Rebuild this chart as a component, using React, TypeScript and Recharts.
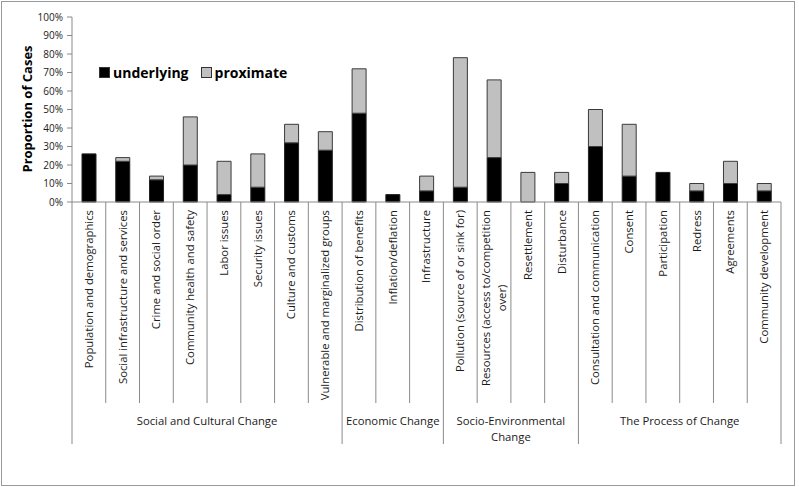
import { BarChart, Bar, XAxis, YAxis, Legend } from "recharts";

const FONT = '"Open Sans", "DejaVu Sans", sans-serif';
const TEXT = "#1a1a1a";
const AXIS = "#8a8a8a";

const categories = [
  "Population and demographics",
  "Social infrastructure and services",
  "Crime and social order",
  "Community health and safety",
  "Labor issues",
  "Security issues",
  "Culture and customs",
  "Vulnerable and marginalized groups",
  "Distribution of benefits",
  "Inflation/deflation",
  "Infrastructure",
  "Pollution (source of or sink for)",
  "Resources (access to/competition\nover)",
  "Resettlement",
  "Disturbance",
  "Consultation and communication",
  "Consent",
  "Participation",
  "Redress",
  "Agreements",
  "Community development",
];

const groupNames = [
  "Social and Cultural Change",
  "Economic Change",
  "Socio-Environmental\nChange",
  "The Process of Change",
];
const groupSizes = [8, 3, 4, 6];

const seriesOrder = ["underlying", "proximate"];
const underlying = [26, 22, 12, 20, 4, 8, 32, 28, 48, 4, 6, 8, 24, 0, 10, 30, 14, 16, 6, 10, 6];
const proximate = [0, 2, 2, 26, 18, 18, 10, 10, 24, 0, 8, 70, 42, 16, 6, 20, 28, 0, 4, 12, 4];

const yTicks = [0, 10, 20, 30, 40, 50, 60, 70, 80, 90, 100];

const W = 799;
const H = 487;
const M_TOP = 17;
const M_RIGHT = 18;
const Y_W = 72;
const X_H = 285;
const PLOT_BOTTOM = H - X_H;
const BAND = (W - Y_W - M_RIGHT) / categories.length;

const rows = categories.map((name, i) => ({
  name,
  underlying: underlying[i],
  proximate: proximate[i],
}));

// first category index of each group
const groupStarts: number[] = [];
groupSizes.reduce((acc, n) => {
  groupStarts.push(acc);
  return acc + n;
}, 0);

let ctx: CanvasRenderingContext2D | null = null;
function textWidth(s: string, font: string) {
  if (!ctx) ctx = document.createElement("canvas").getContext("2d");
  if (!ctx) return s.length * 6;
  ctx.font = font;
  return ctx.measureText(s).width;
}

const CAT_SIZE = 11.3;
const LABEL_TOP = PLOT_BOTTOM + 8;

function CategoryTick(props: any) {
  const { x, index, payload } = props;
  const lines = String(payload.value).split("\n");
  const left = x - BAND / 2;
  const g = groupStarts.indexOf(index);
  const isLast = index === categories.length - 1;

  const widest = Math.max(...lines.map((l) => textWidth(l, `${CAT_SIZE}px ${FONT}`)));
  const midY = LABEL_TOP + widest / 2;
  const lineH = 16;

  return (
    <g>
      <line
        x1={left}
        x2={left}
        y1={PLOT_BOTTOM}
        y2={g >= 0 ? 444 : 403}
        stroke={AXIS}
        strokeWidth={1}
      />
      {isLast && (
        <line x1={x + BAND / 2} x2={x + BAND / 2} y1={PLOT_BOTTOM} y2={444} stroke={AXIS} />
      )}
      {lines.map((l, i) => {
        const cx = x + (i - (lines.length - 1) / 2) * lineH;
        return (
          <text
            key={i}
            x={cx}
            y={midY}
            dy="0.35em"
            transform={`rotate(-90 ${cx} ${midY})`}
            textAnchor="middle"
            fontFamily={FONT}
            fontSize={CAT_SIZE}
            fill={TEXT}
          >
            {l}
          </text>
        );
      })}
      {g >= 0 &&
        groupNames[g].split("\n").map((l, i) => (
          <text
            key={"g" + i}
            x={left + (groupSizes[g] * BAND) / 2}
            y={421 + i * 16}
            dy="0.35em"
            textAnchor="middle"
            fontFamily={FONT}
            fontSize={CAT_SIZE}
            fill={TEXT}
          >
            {l}
          </text>
        ))}
    </g>
  );
}

function LegendContent(props: any) {
  const items = [...(props.payload || [])].sort(
    (a: any, b: any) => seriesOrder.indexOf(a.dataKey) - seriesOrder.indexOf(b.dataKey)
  );
  return (
    <div style={{ display: "flex", fontFamily: FONT, fontWeight: 700, fontSize: 14, color: "#000" }}>
      {items.map((it: any, i: number) => (
        <div key={i} style={{ display: "flex", alignItems: "center", marginRight: 12 }}>
          <span
            style={{
              display: "inline-block",
              width: 9,
              height: 9,
              background: it.color,
              border: "1px solid #333",
              marginRight: 3,
            }}
          />
          <span>{it.value}</span>
        </div>
      ))}
    </div>
  );
}

export default function App() {
  return (
    <div style={{ position: "fixed", left: 0, top: 0, width: W, height: H, background: "#fff" }}>
      <BarChart
        width={W}
        height={H}
        data={rows}
        margin={{ top: M_TOP, right: M_RIGHT, left: 0, bottom: 0 }}
        barSize={14}
      >
        <XAxis
          dataKey="name"
          interval={0}
          height={X_H}
          tickLine={false}
          tickSize={0}
          tickMargin={0}
          axisLine={{ stroke: AXIS }}
          tick={<CategoryTick />}
        />
        <YAxis
          domain={[0, 100]}
          ticks={yTicks}
          interval={0}
          width={Y_W}
          tickFormatter={(v) => `${v}%`}
          tick={{ fill: TEXT, fontSize: 10, fontFamily: FONT }}
          tickSize={5}
          tickMargin={4}
          axisLine={{ stroke: AXIS }}
          tickLine={{ stroke: AXIS }}
          label={() => (
            <text
              x={27}
              y={109}
              transform="rotate(-90 27 109)"
              textAnchor="middle"
              dy="0.35em"
              fontFamily={FONT}
              fontWeight={700}
              fontSize={13}
              fill="#000"
            >
              Proportion of Cases
            </text>
          )}
        />
        <Legend
          layout="horizontal"
          verticalAlign="middle"
          align="center"
          content={<LegendContent />}
          wrapperStyle={{ top: 63, left: 99, width: 220 }}
        />
        <Bar
          dataKey="underlying"
          name="underlying"
          stackId="a"
          fill="#000000"
          stroke="#222"
          strokeWidth={1}
          isAnimationActive={false}
        />
        <Bar
          dataKey="proximate"
          name="proximate"
          stackId="a"
          fill="#c0c0c0"
          stroke="#3a3a3a"
          strokeWidth={1}
          isAnimationActive={false}
        />
      </BarChart>
      <div
        style={{
          position: "absolute",
          left: 1,
          top: 1,
          width: 792,
          height: 483,
          border: "1.5px solid #9a9a9a",
          pointerEvents: "none",
        }}
      />
    </div>
  );
}
